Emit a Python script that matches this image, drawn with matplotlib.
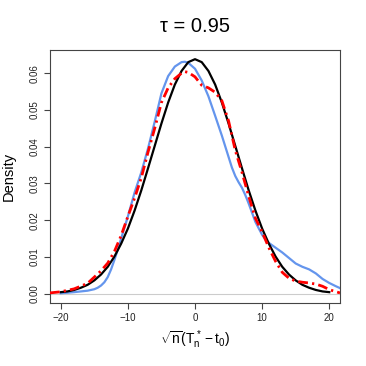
import matplotlib
matplotlib.use('Agg')
import matplotlib.pyplot as plt

plt.rcParams['font.family'] = ['Liberation Sans', 'DejaVu Sans']
plt.rcParams['mathtext.fontset'] = 'custom'
plt.rcParams['mathtext.rm'] = 'Liberation Sans'
plt.rcParams['mathtext.it'] = 'Liberation Sans'
plt.rcParams['mathtext.bf'] = 'Liberation Sans:bold'

# curva normal de referencia (preta)
x_preto = list(range(-20, 21))
y_preto = [0.0004, 0.0006, 0.0010, 0.0016, 0.0024, 0.0036, 0.0052, 0.0073, 0.0101, 0.0136,
           0.0177, 0.0226, 0.0281, 0.0341, 0.0402, 0.0463, 0.0520, 0.0569, 0.0606, 0.0630,
           0.0638,
           0.0630, 0.0606, 0.0569, 0.0520, 0.0463, 0.0402, 0.0341, 0.0281, 0.0226, 0.0177,
           0.0136, 0.0101, 0.0073, 0.0052, 0.0036, 0.0024, 0.0016, 0.0010, 0.0006, 0.0004]

# densidade azul
x_azul = [-20, -18, -16, -15, -14.5, -14, -13.5, -13, -12.5, -12, -11.5, -11, -10, -9, -8, -7,
          -6, -5, -4, -3, -2, -1.5, -1, 0, 1, 2, 3, 4, 5, 5.5, 6, 6.5, 7, 7.5, 8, 9, 10, 10.5,
          11, 12, 13, 14, 15, 16, 17, 18, 19, 20, 21, 21.6]
y_azul = [0.0001, 0.0004, 0.0008, 0.0012, 0.0016, 0.0022, 0.0031, 0.0045, 0.0066, 0.0092,
          0.0120, 0.0150, 0.0210, 0.0275, 0.0330, 0.0395, 0.0468, 0.0545, 0.0592, 0.0618,
          0.0630, 0.0631, 0.0628, 0.0612, 0.0580, 0.0537, 0.0484, 0.0430, 0.0372, 0.0343,
          0.0320, 0.0303, 0.0288, 0.0268, 0.0245, 0.0195, 0.0160, 0.0147, 0.0138, 0.0125,
          0.0112, 0.0097, 0.0082, 0.0073, 0.0066, 0.0055, 0.0040, 0.0029, 0.0020, 0.0015]

# densidade vermelha (traço-ponto)
x_verm = [-21.6, -20, -18, -16, -15, -14, -13, -12, -11, -10, -9, -8, -7, -6, -5, -4, -3, -2,
          -1.5, -1, 0, 1, 2, 3, 4, 5, 6, 7, 8, 9, 10, 11, 12, 13, 14, 15, 16, 17, 18, 19, 20,
          21, 21.6]
y_verm = [0.0002, 0.0005, 0.0013, 0.0028, 0.0045, 0.0062, 0.0083, 0.0115, 0.0158, 0.0210,
          0.0260, 0.0315, 0.0385, 0.0450, 0.0520, 0.0560, 0.0585, 0.0600, 0.0604, 0.0602,
          0.0590, 0.0567, 0.0560, 0.0548, 0.0525, 0.0470, 0.0390, 0.0330, 0.0265, 0.0205,
          0.0168, 0.0125, 0.0088, 0.0058, 0.0042, 0.0034, 0.0031, 0.0029, 0.0026, 0.0020,
          0.0011, 0.0005, 0.0002]

x_ticks = [-20, -10, 0, 10, 20]
y_ticks = [0.00, 0.01, 0.02, 0.03, 0.04, 0.05, 0.06]

fig = plt.figure(figsize=(3.66, 3.66), dpi=100)
ax = fig.add_axes([50 / 366, 1 - 303 / 366, 290 / 366, 253 / 366])

ax.axhline(0, color='#cccccc', lw=0.8, zorder=1)
ax.plot(x_azul, y_azul, color='#6495ED', lw=1.6, zorder=2)
ax.plot(x_preto, y_preto, color='black', lw=1.6, zorder=3)
ax.plot(x_verm, y_verm, color='red', lw=2.0, dashes=(3.5, 1.5, 0.8, 1.5), zorder=4)

ax.set_xlim(-21.6, 21.6)
ax.set_ylim(-0.00255, 0.0663)
ax.set_xticks(x_ticks)
ax.set_xticklabels(['\u221220', '\u221210', '0', '10', '20'])
ax.set_yticks(y_ticks)
ax.set_yticklabels(['%.2f' % v for v in y_ticks], rotation=90, va='center')

for s in ax.spines.values():
    s.set_color('#444444')
    s.set_linewidth(0.8)
ax.tick_params(direction='out', length=4.5, width=0.8, color='#444444',
               labelsize=7, pad=3, labelcolor='#222222')

ax.set_title('\u03c4 = 0.95', fontsize=14.5, pad=13)
ax.set_xlabel(r'$\sqrt{n}(T_n^* - t_0)$', fontsize=10, labelpad=4)
ax.set_ylabel('Density', fontsize=10.5, labelpad=10)

fig.savefig('out.png', dpi=100)
